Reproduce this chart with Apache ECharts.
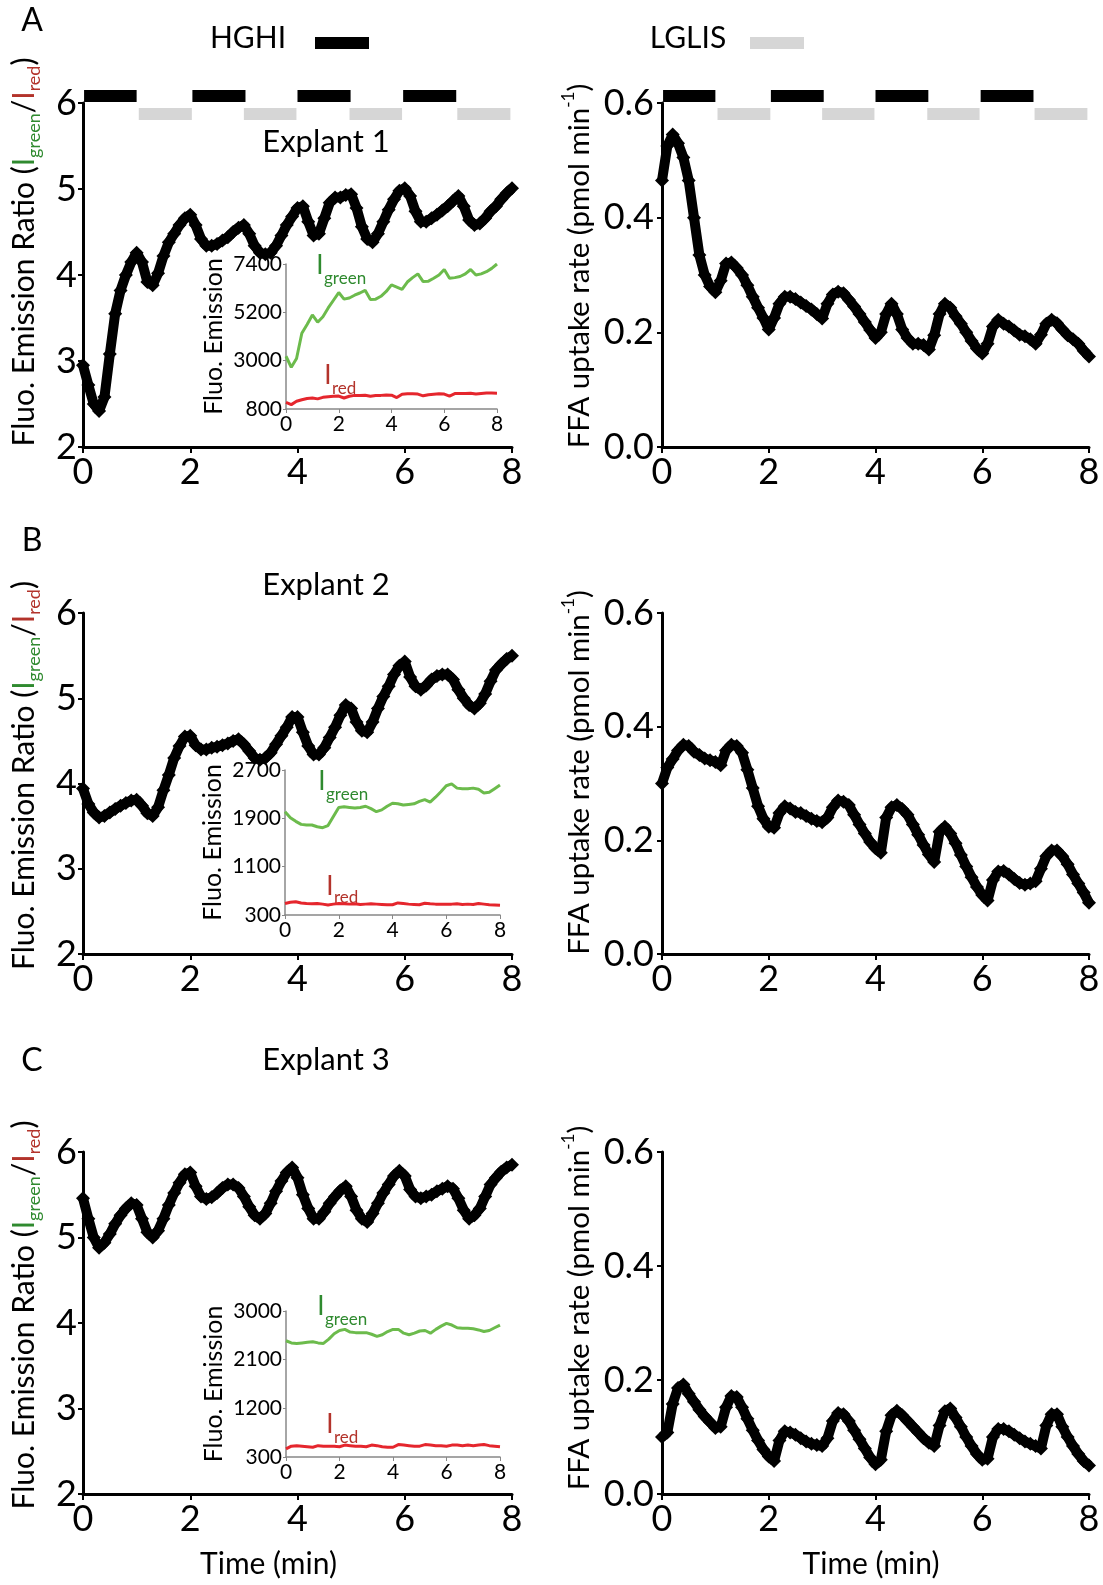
<!DOCTYPE html>
<html lang="en">
<head>
    <meta charset="UTF-8">
    <title>Explant emission ratio and FFA uptake</title>
    <script src="https://cdn.jsdelivr.net/npm/echarts/dist/echarts.min.js"></script>
    <style>
        html, body { margin: 0; padding: 0; background: #fff; }
        #main { width: 1103px; height: 1585px; }
    </style>
</head>
<body>
<div id="main"></div>
<script type="text/javascript">
    // time grids (min)
    var t10 = [0,0.1,0.2,0.3,0.4,0.5,0.6,0.7,0.8,0.9,1,1.1,1.2,1.3,1.4,1.5,1.6,1.7,1.8,1.9,2,2.1,2.2,2.3,2.4,2.5,2.6,2.7,2.8,2.9,
        3,3.1,3.2,3.3,3.4,3.5,3.6,3.7,3.8,3.9,4,4.1,4.2,4.3,4.4,4.5,4.6,4.7,4.8,4.9,5,5.1,5.2,5.3,5.4,5.5,5.6,5.7,5.8,5.9,
        6,6.1,6.2,6.3,6.4,6.5,6.6,6.7,6.8,6.9,7,7.1,7.2,7.3,7.4,7.5,7.6,7.7,7.8,7.9,8];
    var t5 = [0,0.2,0.4,0.6,0.8,1,1.2,1.4,1.6,1.8,2,2.2,2.4,2.6,2.8,3,3.2,3.4,3.6,3.8,4,4.2,4.4,4.6,4.8,5,
        5.2,5.4,5.6,5.8,6,6.2,6.4,6.6,6.8,7,7.2,7.4,7.6,7.8,8];

    // perfusion periods [start, end] (min)
    var hghiPeriods = [[0.02, 1.0], [2.04, 3.03], [4.0, 4.99], [5.97, 6.96]];
    var lglisPeriods = [[1.04, 2.03], [3.0, 3.98], [4.97, 5.95], [6.98, 7.97]];

    // Explant 1
    var ratio1 = [2.95,2.72,2.50,2.42,2.58,3.08,3.55,3.82,4.00,4.15,
        4.26,4.15,3.92,3.88,4.02,4.22,4.38,4.48,4.58,4.66,
        4.70,4.58,4.42,4.34,4.34,4.36,4.40,4.44,4.50,4.55,
        4.58,4.48,4.34,4.26,4.24,4.26,4.34,4.46,4.58,4.68,
        4.78,4.80,4.62,4.46,4.48,4.66,4.84,4.90,4.90,4.93,
        4.94,4.78,4.56,4.42,4.38,4.48,4.62,4.76,4.88,4.98,
        5.01,4.92,4.74,4.62,4.62,4.66,4.70,4.75,4.80,4.86,
        4.92,4.80,4.64,4.58,4.60,4.66,4.74,4.80,4.88,4.95,
        5.01];
    var ffa1 = [0.465,0.525,0.545,0.530,0.505,0.465,0.400,0.335,0.300,0.280,
        0.270,0.290,0.320,0.322,0.312,0.300,0.282,0.262,0.243,0.225,
        0.205,0.225,0.250,0.262,0.262,0.258,0.252,0.246,0.240,0.232,
        0.224,0.250,0.266,0.271,0.268,0.257,0.245,0.232,0.218,0.204,
        0.190,0.200,0.232,0.250,0.232,0.205,0.190,0.180,0.180,0.178,
        0.170,0.195,0.232,0.250,0.243,0.228,0.215,0.200,0.185,0.172,
        0.163,0.180,0.210,0.222,0.215,0.210,0.203,0.196,0.193,0.188,
        0.180,0.196,0.215,0.222,0.216,0.205,0.195,0.188,0.180,0.168,
        0.158];
    var green1 = [3200,2700,3100,4250,4650,5080,4750,5000,5400,5750,6100,5800,5850,5980,6080,6200,5780,5800,5930,6150,
        6450,6350,6250,6580,6780,6950,6600,6620,6750,6900,7150,6750,6780,6830,6950,7150,6900,6950,7050,7200,7400];
    var red1 = [1100,1000,1150,1220,1280,1300,1260,1330,1360,1380,1390,1300,1380,1420,1420,1430,1380,1410,1420,1440,
        1430,1320,1470,1490,1490,1480,1400,1450,1470,1490,1480,1390,1500,1510,1510,1520,1480,1510,1530,1530,1520];

    // Explant 2
    var ratio2 = [3.94,3.76,3.66,3.60,3.62,3.66,3.70,3.74,3.77,3.80,
        3.81,3.74,3.65,3.62,3.72,3.92,4.10,4.30,4.44,4.55,
        4.56,4.45,4.40,4.40,4.42,4.43,4.45,4.47,4.50,4.52,
        4.46,4.38,4.30,4.28,4.30,4.36,4.46,4.56,4.66,4.78,
        4.78,4.60,4.44,4.34,4.34,4.42,4.54,4.66,4.80,4.92,
        4.88,4.72,4.62,4.60,4.72,4.88,5.02,5.14,5.28,5.38,
        5.43,5.25,5.14,5.10,5.15,5.22,5.26,5.28,5.28,5.22,
        5.10,5.00,4.92,4.88,4.94,5.05,5.20,5.33,5.40,5.46,
        5.50];
    var ffa2 = [0.300,0.328,0.343,0.358,0.368,0.366,0.356,0.350,0.344,0.341,
        0.338,0.332,0.358,0.368,0.366,0.354,0.324,0.292,0.260,0.238,
        0.224,0.222,0.248,0.260,0.256,0.250,0.248,0.243,0.238,0.234,
        0.232,0.240,0.258,0.270,0.268,0.262,0.245,0.228,0.212,0.197,
        0.186,0.178,0.240,0.258,0.262,0.255,0.245,0.228,0.210,0.192,
        0.175,0.162,0.215,0.224,0.212,0.195,0.174,0.154,0.135,0.118,
        0.104,0.094,0.130,0.145,0.146,0.140,0.132,0.125,0.122,0.124,
        0.128,0.150,0.172,0.182,0.182,0.172,0.158,0.140,0.124,0.108,
        0.090];
    var green2 = [2010,1910,1850,1800,1790,1790,1760,1745,1780,1930,2080,2090,2080,2070,2080,2100,2060,2010,2040,2100,
        2150,2140,2120,2130,2140,2180,2210,2170,2250,2340,2440,2470,2400,2390,2390,2400,2380,2320,2330,2390,2450];
    var red2 = [490,510,520,500,490,485,490,480,465,480,490,485,480,485,475,480,485,480,475,470,
        470,500,490,480,475,470,495,485,480,480,480,480,485,475,480,475,490,480,470,465,460];

    // Explant 3
    var ratio3 = [5.46,5.22,5.00,4.88,4.94,5.04,5.16,5.26,5.34,5.40,
        5.38,5.22,5.06,5.00,5.08,5.22,5.38,5.52,5.64,5.74,
        5.76,5.60,5.48,5.45,5.47,5.52,5.58,5.62,5.62,5.58,
        5.48,5.36,5.26,5.22,5.28,5.40,5.54,5.66,5.76,5.82,
        5.70,5.50,5.34,5.22,5.22,5.30,5.40,5.48,5.55,5.60,
        5.48,5.32,5.22,5.18,5.28,5.40,5.52,5.62,5.72,5.78,
        5.72,5.56,5.48,5.46,5.48,5.50,5.54,5.57,5.60,5.57,
        5.46,5.32,5.22,5.26,5.34,5.48,5.62,5.70,5.77,5.82,
        5.85];
    var ffa3 = [0.100,0.108,0.158,0.186,0.192,0.176,0.162,0.148,0.136,0.126,
        0.116,0.118,0.152,0.172,0.170,0.152,0.132,0.112,0.094,0.078,
        0.066,0.058,0.094,0.110,0.108,0.104,0.098,0.092,0.088,0.086,
        0.084,0.098,0.128,0.142,0.140,0.128,0.112,0.096,0.080,0.064,
        0.052,0.060,0.110,0.138,0.146,0.138,0.128,0.118,0.108,0.098,
        0.090,0.084,0.120,0.145,0.150,0.134,0.118,0.100,0.084,0.070,
        0.060,0.062,0.100,0.114,0.114,0.110,0.104,0.098,0.092,0.088,
        0.084,0.080,0.120,0.140,0.140,0.118,0.100,0.084,0.070,0.058,
        0.050];
    var green3 = [2450,2410,2400,2410,2420,2430,2410,2400,2480,2580,2640,2660,2610,2600,2600,2600,2570,2530,2560,2620,
        2660,2660,2590,2560,2590,2630,2640,2590,2660,2720,2770,2740,2690,2680,2680,2670,2650,2620,2640,2690,2740];
    var red3 = [450,500,510,500,490,480,510,500,500,500,490,520,510,500,500,490,520,510,490,480,
        480,530,520,510,500,500,530,520,510,510,500,520,520,510,520,510,520,530,510,500,490];

    var F = 'Lato';
    var GREEN_TXT = '#2f8a2f', RED_TXT = '#b3332b';
    var GREEN_LINE = '#6cbb4c', RED_LINE = '#e5262d';

    function pairs(ts, vs) {
        return ts.map(function (t, i) { return [t, vs[i]]; });
    }

    var myChart = echarts.init(document.getElementById('main'), null, {renderer: 'canvas'});

    // grids: 0 A-left, 1 A-right, 2 A-inset, 3 A-bars-left, 4 A-bars-right,
    //        5 B-left, 6 B-right, 7 B-inset, 8 C-left, 9 C-right, 10 C-inset
    var grids = [
        {left: 83, top: 103, width: 429, height: 344},
        {left: 662, top: 103, width: 427, height: 344},
        {left: 286, top: 264, width: 211, height: 145},
        {left: 83, top: 96, width: 429, height: 18},
        {left: 662, top: 96, width: 427, height: 18},
        {left: 83, top: 613, width: 429, height: 341},
        {left: 662, top: 613, width: 427, height: 341},
        {left: 285, top: 770, width: 215, height: 145},
        {left: 83, top: 1152, width: 429, height: 342},
        {left: 662, top: 1152, width: 427, height: 342},
        {left: 286, top: 1311, width: 214, height: 146}
    ];

    var ratioName = '{n|Fluo. Emission Ratio (}{g|I}{gs|green}{n|/}{r|I}{rs|red}{n|)}';
    var ratioRich = {
        n: {fontSize: 30, fontFamily: F, color: '#000', lineHeight: 38},
        g: {fontSize: 30, fontFamily: F, color: GREEN_TXT, lineHeight: 38},
        gs: {fontSize: 18, fontFamily: F, color: GREEN_TXT, lineHeight: 18, verticalAlign: 'bottom'},
        r: {fontSize: 30, fontFamily: F, color: RED_TXT, lineHeight: 38},
        rs: {fontSize: 18, fontFamily: F, color: RED_TXT, lineHeight: 18, verticalAlign: 'bottom'}
    };
    var ffaName = '{n|FFA uptake rate (pmol min}{s|-1}{n|)}';
    var ffaRich = {
        n: {fontSize: 29.5, fontFamily: F, color: '#000', lineHeight: 38},
        s: {fontSize: 17, fontFamily: F, color: '#000', lineHeight: 17, verticalAlign: 'top'}
    };

    function mainX(gi, name, pad) {
        return {
            gridIndex: gi, type: 'value', min: 0, max: 8, interval: 2,
            name: name || '', nameLocation: 'middle', nameGap: 55,
            nameTextStyle: {fontSize: 30, fontFamily: F, color: '#000', padding: pad || 0},
            axisLine: {onZero: false, lineStyle: {color: '#000', width: 3}},
            axisTick: {inside: false, length: 6, lineStyle: {color: '#000', width: 2}},
            axisLabel: {fontSize: 36, fontFamily: F, color: '#000', margin: 7},
            splitLine: {show: false}
        };
    }
    function ratioY(gi, pad) {
        return {
            gridIndex: gi, type: 'value', min: 2, max: 6, interval: 1,
            name: ratioName, nameLocation: 'middle', nameGap: 40, nameRotate: 90,
            nameTextStyle: {rich: ratioRich, padding: pad},
            axisLine: {onZero: false, lineStyle: {color: '#000', width: 3}},
            axisTick: {inside: false, length: 5, lineStyle: {color: '#000', width: 2}},
            axisLabel: {fontSize: 36, fontFamily: F, color: '#000', margin: 6},
            splitLine: {show: false}
        };
    }
    function ffaY(gi, pad) {
        return {
            gridIndex: gi, type: 'value', min: 0, max: 0.6, interval: 0.2,
            name: ffaName, nameLocation: 'middle', nameGap: 64, nameRotate: 90,
            nameTextStyle: {rich: ffaRich, padding: pad},
            axisLine: {onZero: false, lineStyle: {color: '#000', width: 3}},
            axisTick: {inside: false, length: 5, lineStyle: {color: '#000', width: 2}},
            axisLabel: {fontSize: 36, fontFamily: F, color: '#000', margin: 8,
                formatter: function (v) { return v.toFixed(1); }},
            splitLine: {show: false}
        };
    }
    function plainNum(v) { return String(v); }
    function insetX(gi) {
        return {
            gridIndex: gi, type: 'value', min: 0, max: 8, interval: 2,
            axisLine: {onZero: false, lineStyle: {color: '#888', width: 1.5}},
            axisTick: {length: 4, lineStyle: {color: '#888', width: 1}},
            axisLabel: {fontSize: 21, fontFamily: F, color: '#000', margin: 5, formatter: plainNum},
            splitLine: {show: false}
        };
    }
    function insetY(gi, mn, mx, step) {
        return {
            gridIndex: gi, type: 'value', min: mn, max: mx, interval: step,
            name: 'Fluo. Emission', nameLocation: 'middle', nameGap: 60, nameRotate: 90,
            nameTextStyle: {fontSize: 25, fontFamily: F, color: '#000'},
            axisLine: {onZero: false, lineStyle: {color: '#888', width: 1.5}},
            axisTick: {length: 3, lineStyle: {color: '#888', width: 1}},
            axisLabel: {fontSize: 21, fontFamily: F, color: '#000', margin: 4, formatter: plainNum},
            splitLine: {show: false}
        };
    }
    function hiddenAxis(gi, mn, mx) {
        return {gridIndex: gi, type: 'value', min: mn, max: mx, show: false};
    }

    var xAxes = [
        mainX(0), mainX(1), insetX(2), hiddenAxis(3, 0, 8), hiddenAxis(4, 0, 8),
        mainX(5), mainX(6), insetX(7),
        mainX(8, 'Time (min)', [0, 58, 0, 0]), mainX(9, 'Time (min)', [0, 9, 0, 0]), insetX(10)
    ];
    var yAxes = [
        ratioY(0, [0, 0, 0, 46]), ffaY(1, [0, 0, 0, 18]), insetY(2, 800, 7400, 2200),
        hiddenAxis(3, 0, 1), hiddenAxis(4, 0, 1),
        ratioY(5, [0, 0, 0, 16]), ffaY(6, [0, 0, 0, 22]), insetY(7, 300, 2700, 800),
        ratioY(8, [0, 0, 0, 16]), ffaY(9, [0, 0, 0, 30]), insetY(10, 300, 3000, 900)
    ];

    function diamondSeries(gi, vals) {
        return {
            type: 'line', xAxisIndex: gi, yAxisIndex: gi, data: pairs(t10, vals),
            symbol: 'diamond', symbolSize: 14, showSymbol: true, showAllSymbol: true,
            lineStyle: {color: '#000', width: 10}, itemStyle: {color: '#000', borderWidth: 0},
            z: 3, silent: true
        };
    }
    function traceSeries(gi, vals, color) {
        return {
            type: 'line', xAxisIndex: gi, yAxisIndex: gi, data: pairs(t5, vals),
            symbol: 'none', lineStyle: {color: color, width: 3}, z: 5, silent: true
        };
    }
    var periodData = hghiPeriods.map(function (p) { return [p[0], p[1], 1]; })
        .concat(lglisPeriods.map(function (p) { return [p[0], p[1], 0]; }));
    function periodSeries(gi) {
        return {
            type: 'custom', xAxisIndex: gi, yAxisIndex: gi, data: periodData, silent: true,
            encode: {x: [0, 1], y: 2},
            renderItem: function (params, api) {
                var s = api.coord([api.value(0), api.value(2)]);
                var e = api.coord([api.value(1), api.value(2)]);
                return {
                    type: 'rect',
                    shape: {x: s[0], y: s[1] - 6, width: e[0] - s[0], height: 12},
                    style: {fill: api.value(2) === 1 ? '#000' : '#d6d6d6'}
                };
            }
        };
    }

    function txt(x, y, text, size, color, align) {
        return {
            type: 'text', x: x, y: y, silent: true,
            style: {text: text, fontSize: size, fontFamily: F, fill: color || '#000',
                align: align || 'center', verticalAlign: 'middle'}
        };
    }

    var graphics = [
        txt(32, 21, 'A', 32), txt(32, 541, 'B', 32), txt(32, 1061, 'C', 32),
        txt(248, 38, 'HGHI', 30), txt(688, 38, 'LGLIS', 30),
        {type: 'rect', silent: true, shape: {x: 315, y: 37, width: 54, height: 12}, style: {fill: '#000'}},
        {type: 'rect', silent: true, shape: {x: 750, y: 37, width: 54, height: 12}, style: {fill: '#d6d6d6'}},
        txt(326, 142, 'Explant 1', 31), txt(326, 585, 'Explant 2', 31), txt(326, 1060, 'Explant 3', 31),
        // inset trace labels
        txt(320, 266, 'I', 26, GREEN_TXT), txt(324, 279, 'green', 17, GREEN_TXT, 'left'),
        txt(328, 376, 'I', 26, RED_TXT), txt(332, 389, 'red', 17, RED_TXT, 'left'),
        txt(322, 782, 'I', 26, GREEN_TXT), txt(326, 795, 'green', 17, GREEN_TXT, 'left'),
        txt(330, 887, 'I', 26, RED_TXT), txt(334, 898, 'red', 17, RED_TXT, 'left'),
        txt(321, 1307, 'I', 26, GREEN_TXT), txt(325, 1320, 'green', 17, GREEN_TXT, 'left'),
        txt(330, 1425, 'I', 26, RED_TXT), txt(334, 1438, 'red', 17, RED_TXT, 'left')
    ];

    var option = {
        animation: false,
        backgroundColor: '#fff',
        textStyle: {fontFamily: F},
        grid: grids,
        xAxis: xAxes,
        yAxis: yAxes,
        graphic: graphics,
        series: [
            diamondSeries(0, ratio1), diamondSeries(1, ffa1),
            traceSeries(2, green1, GREEN_LINE), traceSeries(2, red1, RED_LINE),
            periodSeries(3), periodSeries(4),
            diamondSeries(5, ratio2), diamondSeries(6, ffa2),
            traceSeries(7, green2, GREEN_LINE), traceSeries(7, red2, RED_LINE),
            diamondSeries(8, ratio3), diamondSeries(9, ffa3),
            traceSeries(10, green3, GREEN_LINE), traceSeries(10, red3, RED_LINE)
        ]
    };
    myChart.setOption(option);
</script>
</body>
</html>
